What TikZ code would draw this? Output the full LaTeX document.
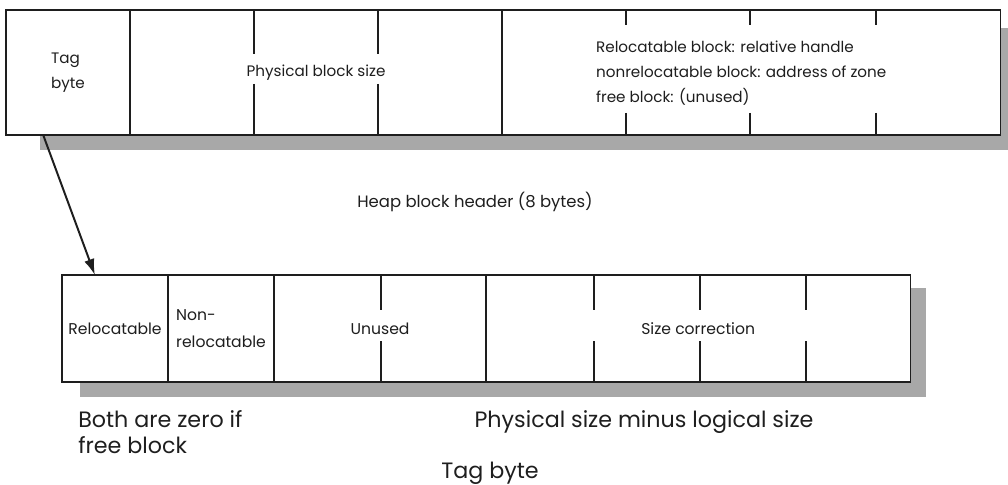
\documentclass[tikz,border=0pt]{standalone}
\usepackage{fontspec}
\setmainfont{Poppins}
\usepackage{xcolor}
\usepackage{tikz}
\usetikzlibrary{arrows.meta,positioning,calc}
\definecolor{ink}{RGB}{30,30,30}
\definecolor{shadowgray}{RGB}{168,168,168}
\tikzset{
  cell/.style={rectangle,draw=ink,line width=1pt,fill=white,inner sep=0pt,outer sep=0pt,
               align=left,text=ink},
  hcell/.style={cell,minimum height=3.125cm,font=\fontsize{10.8}{17.8}\selectfont},
  lcell/.style={cell,minimum height=2.675cm,font=\fontsize{11.1}{19}\selectfont},
  tick/.style={draw=ink,line width=1pt},
  note/.style={align=left,text=ink,inner sep=0pt},
  ptr/.style={-{Latex[length=4mm,width=2.6mm]},line width=1.4pt,draw=ink},
}

\begin{document}
\begin{tikzpicture}[x=0.025cm,y=-0.025cm,node distance=0pt]
  \useasboundingbox (0,0) rectangle (1008,485);
  \fill[shadowgray] (40,28) rectangle (1008,150);
  \fill[shadowgray] (80,288) rectangle (926,397);

  \node[hcell,minimum width=3.1cm,anchor=north west] (tag) at (6,10) {Tag\\byte};
  \node[hcell,minimum width=9.3cm,right=of tag] (psize) {Physical block size};
  \node[hcell,minimum width=12.45cm,right=of psize] (info)
    {\hspace*{-0.5cm}\begin{tabular}{@{}l@{}}Relocatable block: relative handle\\nonrelocatable block: address of zone\\free block: (unused)\end{tabular}};

  \node[lcell,minimum width=2.65cm,anchor=north west] (relo) at (62,275) {Relocatable};
  \node[lcell,minimum width=2.65cm,right=of relo] (nonrelo) {Non-\\relocatable};
  \node[lcell,minimum width=5.3cm,right=of nonrelo] (unused) {Unused};
  \node[lcell,minimum width=10.6cm,right=of unused] (corr) {Size correction};

  \foreach \x in {254,378} {
    \draw[tick] (\x,10) -- (\x,54);
    \draw[tick] (\x,84) -- (\x,135);
  }
  \foreach \x in {626,750,876} {
    \draw[tick] (\x,10) -- (\x,25);
    \draw[tick] (\x,113) -- (\x,135);
  }
  \foreach \x in {381,594,700,806} {
    \draw[tick] (\x,275) -- (\x,310);
    \draw[tick] (\x,341) -- (\x,382);
  }

  \coordinate (tagout) at ($(tag.south west)!0.3!(tag.south east)$);
  \coordinate (reloin) at ($(relo.north west)!0.31!(relo.north east)$);
  \draw[ptr] (tagout) -- (reloin);

  \node[note,font=\fontsize{11.7}{14}\selectfont] (hdrcap) at (475,202) {Heap block header (8 bytes)};
  \node[note,anchor=west,font=\fontsize{15.8}{19}\selectfont] (zero) at (78,432) {Both are zero if\\free block};
  \node[note,font=\fontsize{15.8}{16}\selectfont] (minus) at (644,422) {Physical size minus logical size};
  \node[note,font=\fontsize{15.8}{16}\selectfont] (tagcap) at (490,473) {Tag byte};
\end{tikzpicture}
\end{document}
